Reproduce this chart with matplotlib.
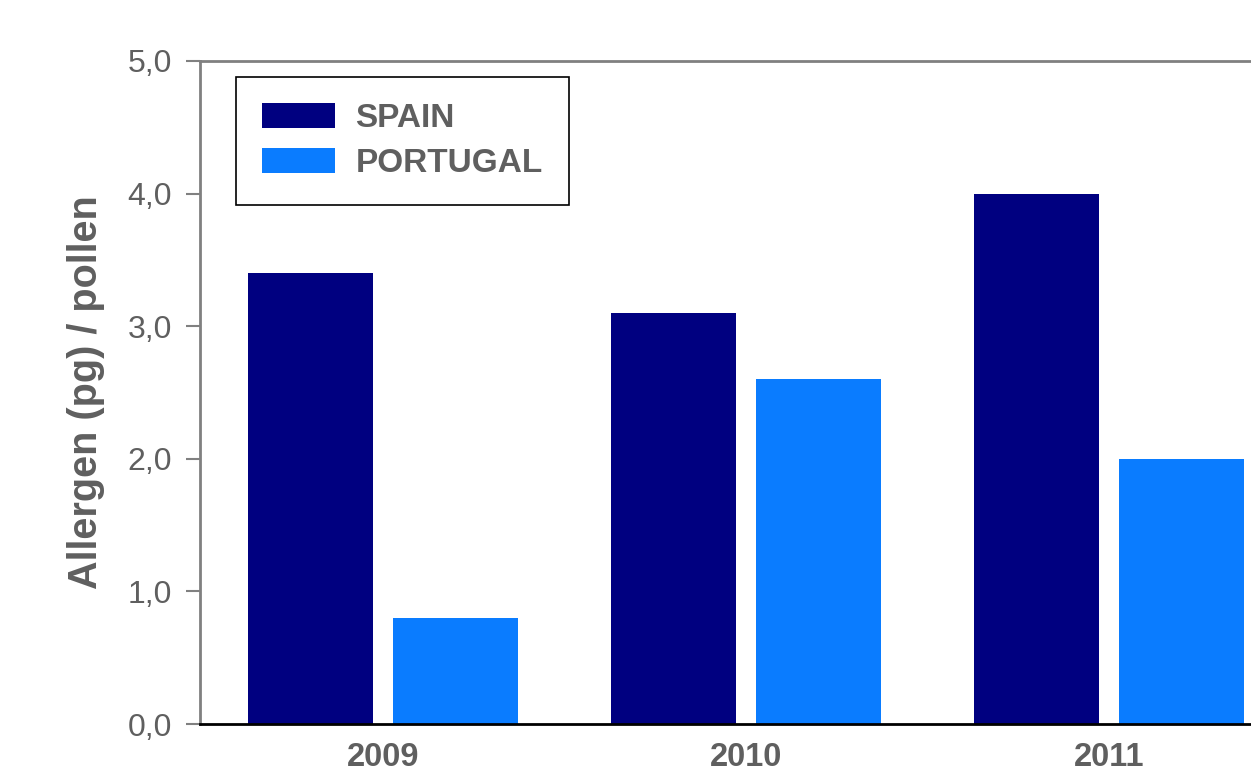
import matplotlib.pyplot as plt
import numpy as np

years = ['2009', '2010', '2011']
spain = [3.4, 3.1, 4.0]
portugal = [0.8, 2.6, 2.0]
yticks = [0, 1, 2, 3, 4, 5]
ytick_labels = ['0,0', '1,0', '2,0', '3,0', '4,0', '5,0']

plt.rcParams['font.family'] = ['Liberation Sans', 'DejaVu Sans']
grey = '#5f5f5f'

fig = plt.figure(figsize=(12.51, 7.74), dpi=100)
# axes runs past the right edge, like the cropped original
ax = fig.add_axes([200 / 1251, 50 / 774, 1092 / 1251, 663 / 774])

x = np.arange(len(years))
w = 0.344
ax.bar(x - 0.2, spain, w, color='#000080', label='SPAIN', zorder=2)
ax.bar(x + 0.2, portugal, w, color='#0a7cff', label='PORTUGAL', zorder=2)

ax.set_xlim(-0.504, 2.504)
ax.set_ylim(0, 5)
ax.set_yticks(yticks)
ax.set_yticklabels(ytick_labels, fontsize=23, color=grey)
ax.set_xticks(x)
ax.set_xticklabels(years, fontsize=23.5, fontweight='bold', color=grey)
ax.tick_params(axis='x', length=0, pad=13)
ax.tick_params(axis='y', length=10, width=1.5, color='#808080', pad=10)

ax.spines['left'].set_color('#808080')
ax.spines['left'].set_linewidth(2)
ax.spines['top'].set_color('#808080')
ax.spines['top'].set_linewidth(2)
ax.spines['bottom'].set_color('black')
ax.spines['bottom'].set_linewidth(2)
ax.spines['right'].set_visible(False)

ax.set_ylabel('Allergen (pg) / pollen', fontsize=28.5, fontweight='bold', color=grey, labelpad=16)

leg = ax.legend(loc='upper left', bbox_to_anchor=(0.033, 0.976), borderaxespad=0,
                prop={'size': 24, 'weight': 'bold'}, handlelength=2.2, handleheight=0.8,
                handletextpad=0.6, labelspacing=0.4, borderpad=0.78,
                fancybox=False, edgecolor='black', framealpha=1)
leg.get_frame().set_linewidth(1.2)
for t in leg.get_texts():
    t.set_color(grey)

fig.savefig('out.png', dpi=100)
